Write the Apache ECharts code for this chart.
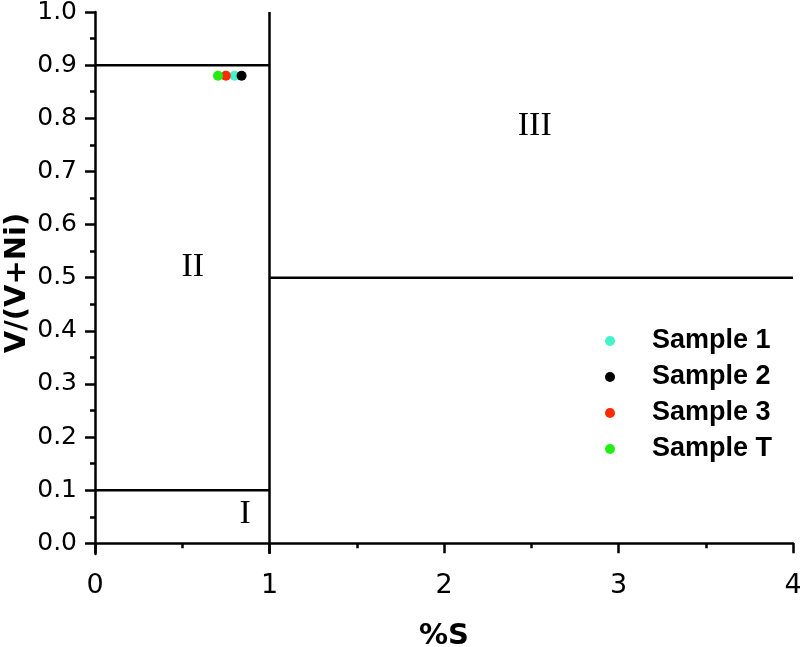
<!DOCTYPE html>
<html>
<head>
<meta charset="utf-8">
<script src="https://cdn.jsdelivr.net/npm/echarts@6/dist/echarts.min.js"></script>
<style>
  html, body { margin: 0; padding: 0; background: #ffffff; }
  #chart { width: 800px; height: 647px; }
</style>
</head>
<body>
<div id="chart"></div>
<script>
// sample points (%S, V/(V+Ni))
const sampleNames = ["Sample 1", "Sample 2", "Sample 3", "Sample T"];
const sampleColors = ["#44f2cc", "#000000", "#ff2a00", "#22ee11"];
const sampleX = [0.80, 0.84, 0.75, 0.705];
const sampleY = [0.88, 0.88, 0.88, 0.88];

// zone boundaries, each one is a segment [[x1, y1], [x2, y2]]
const boundaryLines = [
  [[0, 0.9], [1, 0.9]],
  [[0, 0.1], [1, 0.1]],
  [[1, -0.02], [1, 1.0]],
  [[1, 0.5], [4, 0.5]]
];

// zone labels
const zoneNames = ["I", "II", "III"];
const zoneX = [0.86, 0.56, 2.52];
const zoneY = [0.055, 0.52, 0.785];

// axis ticks
const yMajorTicks = [0, 0.1, 0.2, 0.3, 0.4, 0.5, 0.6, 0.7, 0.8, 0.9, 1.0];
const yMinorTicks = [0.05, 0.15, 0.25, 0.35, 0.45, 0.55, 0.65, 0.75, 0.85, 0.95];

const chart = echarts.init(document.getElementById("chart"));

const series = [];
boundaryLines.forEach(function (seg) {
  series.push({
    type: "line",
    data: seg,
    showSymbol: false,
    symbol: "none",
    silent: true,
    lineStyle: { color: "#000000", width: 2.5 },
    z: 2
  });
});
series.push({
  type: "scatter",
  data: zoneNames.map(function (n, i) { return { name: n, value: [zoneX[i], zoneY[i]] }; }),
  symbolSize: 0,
  silent: true,
  itemStyle: { opacity: 1 },
  label: {
    show: true,
    position: "inside",
    formatter: "{b}",
    fontFamily: "Liberation Serif",
    fontSize: 34,
    color: "#000000",
    opacity: 1
  }
});
sampleNames.forEach(function (name, i) {
  series.push({
    name: name,
    type: "scatter",
    data: [[sampleX[i], sampleY[i]]],
    symbol: "circle",
    symbolSize: 10,
    itemStyle: { color: sampleColors[i], opacity: 1 },
    z: 5
  });
});

const options = {
  animation: false,
  backgroundColor: "#ffffff",
  grid: { left: 95, right: 7, top: 12, bottom: 93, containLabel: false, outerBoundsMode: "none" },
  legend: {
    data: sampleNames,
    orient: "vertical",
    left: 600,
    top: 322,
    icon: "circle",
    itemWidth: 10,
    itemHeight: 10,
    itemGap: 8,
    itemStyle: { opacity: 1 },
    textStyle: {
      fontFamily: "Liberation Sans",
      fontWeight: "bold",
      fontSize: 27,
      lineHeight: 28,
      color: "#000000",
      padding: [0, 0, 0, 32]
    }
  },
  xAxis: {
    type: "value",
    min: 0,
    max: 4,
    interval: 1,
    name: "%S",
    nameLocation: "middle",
    nameGap: 68,
    nameTextStyle: { fontFamily: "DejaVu Sans", fontWeight: "bold", fontSize: 29, color: "#000000" },
    axisLine: { show: true, lineStyle: { color: "#000000", width: 2.5 } },
    axisTick: { show: true, length: 10, lineStyle: { color: "#000000", width: 2.5 } },
    minorTick: { show: true, splitNumber: 2, length: 5, lineStyle: { color: "#000000", width: 2.5 } },
    axisLabel: { fontFamily: "DejaVu Sans", fontSize: 27, color: "#000000", margin: 18 },
    splitLine: { show: false }
  },
  yAxis: [
    {
      type: "value",
      min: -0.02,
      max: 1.0,
      name: "V/(V+Ni)",
      nameLocation: "middle",
      nameGap: 63,
      nameMoveOverlap: false,
      nameTextStyle: { fontFamily: "DejaVu Sans", fontWeight: "bold", fontSize: 29, color: "#000000" },
      axisLine: { show: true, lineStyle: { color: "#000000", width: 2.5 } },
      axisTick: { show: true, length: 10, customValues: yMajorTicks, lineStyle: { color: "#000000", width: 2.5 } },
      axisLabel: {
        customValues: yMajorTicks,
        fontFamily: "DejaVu Sans",
        fontSize: 25,
        color: "#000000",
        margin: 18,
        formatter: function (v) { return v.toFixed(1); }
      },
      splitLine: { show: false }
    },
    {
      type: "value",
      position: "left",
      min: -0.02,
      max: 1.0,
      axisLine: { show: false },
      axisTick: { show: true, length: 5, customValues: yMinorTicks, lineStyle: { color: "#000000", width: 2.5 } },
      axisLabel: { show: false },
      splitLine: { show: false }
    }
  ],
  series: series
};

chart.setOption(options);
</script>
</body>
</html>
